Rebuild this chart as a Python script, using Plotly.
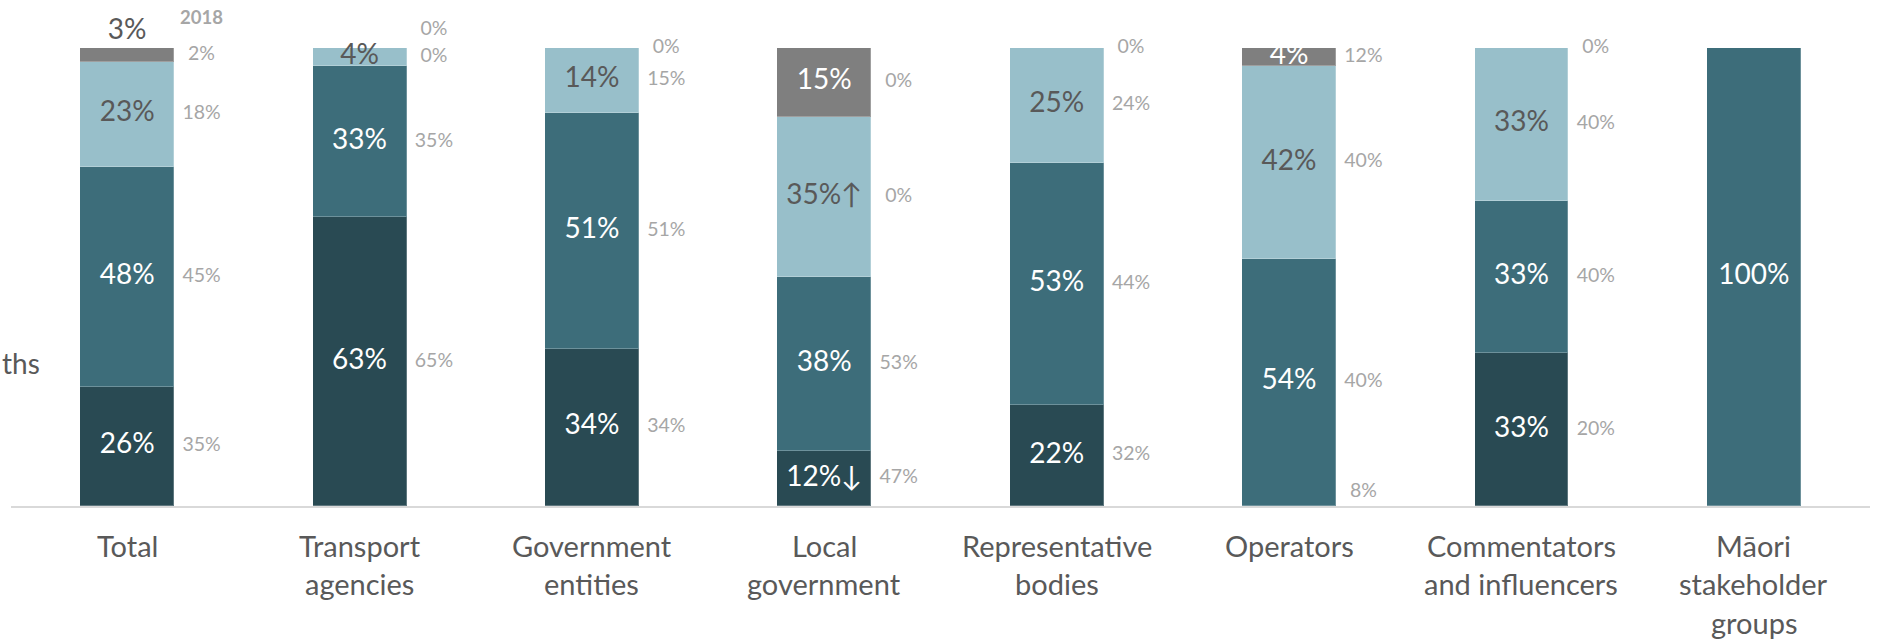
import plotly.graph_objects as go

# ---------------- data ----------------
category_lines = [
    ["Total"],
    ["Transport", "agencies"],
    ["Government", "entities"],
    ["Local", "government"],
    ["Representative", "bodies"],
    ["Operators"],
    ["Commentators", "and influencers"],
    ["Māori", "stakeholder", "groups"],
]

series_names = ["Segment 1", "Segment 2", "Segment 3", "Segment 4"]
series_colors = ["#294a53", "#3d6d7a", "#98bfca", "#7f7f7f"]
label_colors = ["#ffffff", "#ffffff", "#595959", "#ffffff"]

# current values (%) bottom -> top
seg1 = [26, 63, 34, 12, 22, 0, 33, 0]
seg2 = [48, 33, 51, 38, 53, 54, 33, 100]
seg3 = [23, 4, 14, 35, 25, 42, 33, 0]
seg4 = [3, 0, 0, 15, 0, 4, 0, 0]

# 2018 comparison values (%), None = not available
seg1_2018 = [35, 65, 34, 47, 32, 8, 20, None]
seg2_2018 = [45, 35, 51, 53, 44, 40, 40, None]
seg3_2018 = [18, 0, 15, 0, 24, 40, 40, None]
seg4_2018 = [2, 0, 0, 0, 0, 12, 0, None]

# significance arrows
seg1_trend = ["", "", "", "↓", "", "", "", ""]
seg2_trend = ["", "", "", "", "", "", "", ""]
seg3_trend = ["", "", "", "↑", "", "", "", ""]
seg4_trend = ["", "", "", "", "", "", "", ""]

side_text = "ths"
header_2018 = "2018"

# ---------------- build ----------------
FONT = "Lato, 'Open Sans', sans-serif"
current = [seg1, seg2, seg3, seg4]
previous = [seg1_2018, seg2_2018, seg3_2018, seg4_2018]
trends = [seg1_trend, seg2_trend, seg3_trend, seg4_trend]
n = len(category_lines)
xs = list(range(n))
BAR_W = 0.404
OFF = 0.32

# rounded shares are normalised so every bar fills 100%
totals = [sum(s[i] for s in current) for i in range(n)]
shares = [[s[i] / totals[i] for i in range(n)] for s in current]
bases = [[0.0] * n]
for s in shares[:-1]:
    bases.append([b + v for b, v in zip(bases[-1], s)])

fig = go.Figure()
for k, s in enumerate(shares):
    fig.add_trace(go.Bar(
        x=xs, y=s, width=BAR_W, name=series_names[k],
        marker=dict(color=series_colors[k], line=dict(color="rgba(255,255,255,0.25)", width=1)),
        hoverinfo="skip", showlegend=False,
    ))

# current labels
lx, ly, lt, lc = [], [], [], []
for k, s in enumerate(current):
    for i in range(n):
        v = s[i]
        if v <= 0:
            continue
        b = bases[k][i]
        h = shares[k][i]
        if v < 3.5:
            y = b + h + 0.035
            col = "#595959"
        else:
            y = b + h / 2
            col = label_colors[k]
        lx.append(xs[i]); ly.append(y); lt.append(f"{v}%{trends[k][i]}"); lc.append(col)
fig.add_trace(go.Scatter(
    x=lx, y=ly, text=lt, mode="text", textposition="middle center",
    textfont=dict(family=FONT, size=28, color=lc), hoverinfo="skip",
    showlegend=False, cliponaxis=False,
))

# 2018 labels, next to each segment, de-overlapped
px, py, pt = [], [], []
for i in range(n):
    prev_y = None
    for k, s in enumerate(previous):
        pv = s[i]
        if pv is None:
            continue
        y = bases[k][i] + shares[k][i] / 2
        y = max(y, 0.03)
        if prev_y is not None and y - prev_y < 0.06:
            y = prev_y + 0.06
        prev_y = y
        px.append(xs[i] + OFF); py.append(y); pt.append(f"{pv}%")
fig.add_trace(go.Scatter(
    x=px, y=py, text=pt, mode="text", textposition="middle center",
    textfont=dict(family=FONT, size=19.5, color="#a6a6a6"), hoverinfo="skip",
    showlegend=False, cliponaxis=False,
))

annotations = []
for i, lines in enumerate(category_lines):
    for j, line in enumerate(lines):
        annotations.append(dict(
            x=xs[i], y=0, xref="x", yref="y", text=line, showarrow=False,
            xanchor="center", yanchor="middle", yshift=-39 - 38.5 * j,
            font=dict(family=FONT, size=29, color="#595959"),
        ))
annotations.append(dict(
    x=xs[0] + OFF, y=1.068, xref="x", yref="y", text=f"<b>{header_2018}</b>",
    showarrow=False, xanchor="center", yanchor="middle",
    font=dict(family=FONT, size=18.5, color="#a6a6a6"),
))
annotations.append(dict(
    x=0, y=0.312, xref="paper", yref="y", text=side_text, showarrow=False,
    xanchor="left", yanchor="middle", xshift=-11,
    font=dict(family=FONT, size=28, color="#595959"),
))

fig.update_layout(
    width=1878, height=640,
    margin=dict(l=11, r=8, t=0, b=134),
    paper_bgcolor="white", plot_bgcolor="white",
    barmode="stack", bargap=0,
    annotations=annotations,
    xaxis=dict(range=[-0.5, n - 0.5], showticklabels=False, ticks="", showgrid=False,
               zeroline=False, showline=True, linecolor="#d9d9d9", linewidth=2, fixedrange=True),
    yaxis=dict(range=[0, 1.1049], showticklabels=False, ticks="", showgrid=False,
               zeroline=False, showline=False, fixedrange=True),
    font=dict(family=FONT),
)

fig.write_html("out.html")
